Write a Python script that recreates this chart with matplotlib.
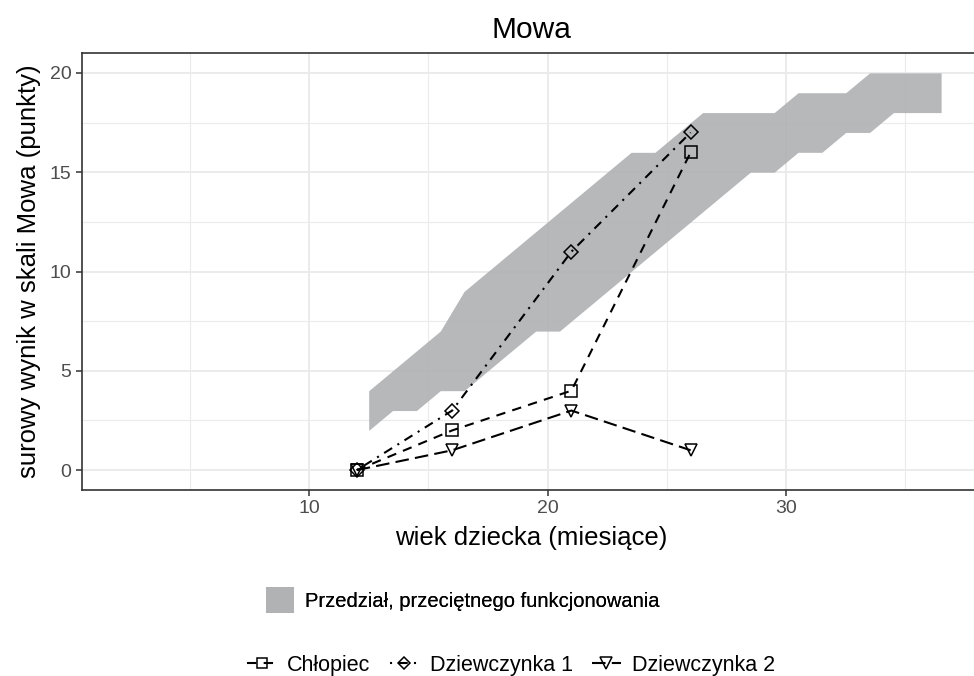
import numpy as np
import matplotlib
matplotlib.use("Agg")
import matplotlib.pyplot as plt
from matplotlib.patches import Patch
from matplotlib.lines import Line2D

plt.rcParams['font.family'] = ['Liberation Sans', 'DejaVu Sans']

# pasmo przecietnego funkcjonowania
band_x = [12.5, 13.5, 14.5, 15.5, 16.5, 17.5, 18.5, 19.5, 20.5, 21.5, 22.5, 23.5,
          24.5, 25.5, 26.5, 27.5, 28.5, 29.5, 30.5, 31.5, 32.5, 33.5, 34.5, 35.5, 36.5]
band_lo = [2, 3, 3, 4, 4, 5, 6, 7, 7, 8, 9, 10,
           11, 12, 13, 14, 15, 15, 16, 16, 17, 17, 18, 18, 18]
band_hi = [4, 5, 6, 7, 9, 10, 11, 12, 13, 14, 15, 16,
           16, 17, 18, 18, 18, 18, 19, 19, 19, 20, 20, 20, 20]

# wyniki dzieci
wiek = [12, 16, 21, 26]
chlopiec = [0, 2, 4, 16]
dziewczynka1 = [0, 3, 11, 17]
dziewczynka2 = [0, 1, 3, 1]

band_color = '#b0b2b3'
lw = 1.5
styles = {
    'Chłopiec': dict(dashes=(4.5, 3.5), marker='s', ms=8),
    'Dziewczynka 1': dict(dashes=(1, 3, 4.5, 3), marker='D', ms=7),
    'Dziewczynka 2': dict(dashes=(6.5, 3), marker='v', ms=9),
}

fig = plt.figure(figsize=(9.74, 6.76), dpi=100)
ax = fig.add_axes([82/974, 1 - 490/676, (980 - 82)/974, (490 - 53)/676])

ax.fill_between(band_x, band_lo, band_hi, color=band_color, lw=0, zorder=2, alpha=0.92)

for name, ys in zip(styles, [chlopiec, dziewczynka1, dziewczynka2]):
    ax.plot(wiek, ys, color='black', lw=lw, mfc='none', mec='black', mew=1.1,
            zorder=3, **styles[name])

ax.set_xlim(0.48, 38.13)
ax.set_ylim(-1, 21)
ax.set_xticks([10, 20, 30])
ax.set_yticks([0, 5, 10, 15, 20])
ax.set_xticks([5, 15, 25, 35], minor=True)
ax.set_yticks([2.5, 7.5, 12.5, 17.5], minor=True)
ax.grid(True, which='major', color='#ebebeb', lw=1.4, zorder=0)
ax.grid(True, which='minor', color='#ebebeb', lw=0.8, zorder=0)
ax.set_axisbelow(True)
ax.tick_params(which='major', length=4.5, width=1.1, color='#333333',
               labelcolor='#4d4d4d', labelsize=14, pad=3)
ax.tick_params(which='minor', length=0)
for s in ax.spines.values():
    s.set_color('#333333')
    s.set_linewidth(1.2)

ax.set_title('Mowa', fontsize=21.5, pad=11)
ax.set_xlabel('wiek dziecka (miesiące)', fontsize=18.5, labelpad=6)
ax.set_ylabel('surowy wynik w skali Mowa (punkty)', fontsize=18.5, labelpad=6)

leg1 = fig.legend(handles=[Patch(facecolor=band_color, edgecolor='none')],
                  labels=['Przedział, przeciętnego funkcjonowania'],
                  loc='center', bbox_to_anchor=(463/974, 1 - 600/676), frameon=False,
                  fontsize=14.5, handlelength=1.4, handleheight=1.65, handletextpad=0.55)

handles = [Line2D([], [], color='black', lw=lw, mfc='none', mec='black', mew=1.1,
                  **dict(styles[n], ms=styles[n]['ms'] - 1)) for n in styles]
fig.legend(handles=handles, labels=list(styles), loc='center',
           bbox_to_anchor=(511/974, 1 - 665/676), ncol=3, frameon=False,
           fontsize=15.5, handlelength=1.35, handletextpad=0.5, columnspacing=0.9)
fig.add_artist(leg1)

fig.savefig('out.png', dpi=100)
